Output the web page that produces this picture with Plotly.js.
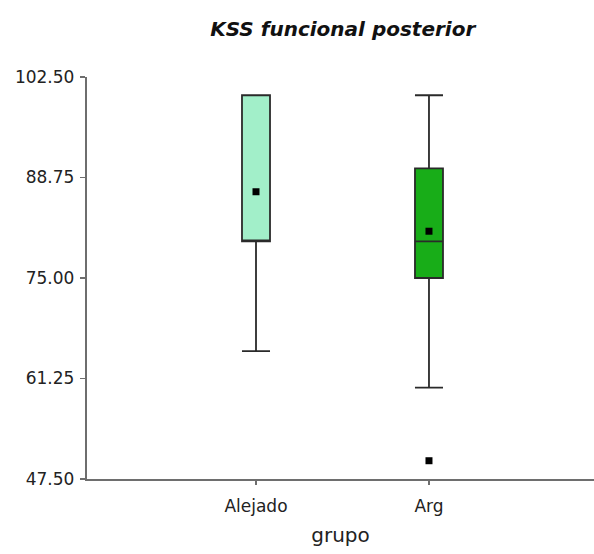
<!DOCTYPE html>
<html><head><meta charset="utf-8">
<script src="https://cdn.plot.ly/plotly-3.0.1.min.js"></script>
<style>html,body{margin:0;padding:0;background:#fff}#chart{width:594px;height:554px}</style>
</head><body><div id="chart"></div>
<script>
const groups = ["Alejado", "Arg"];
const lowerWhisker = [65, 60];
const q1Values = [80, 75];
const medians = [80, 80];
const q3Values = [100, 90];
const upperWhisker = [100, 100];
const means = [86.8, 81.4];
const fills = ["#a2efc9", "#18ad18"];
const outlierGroups = ["Arg"];
const outlierValues = [50];
const yTicks = [47.5, 61.25, 75, 88.75, 102.5];
const yTickLabels = ["47.50", "61.25", "75.00", "88.75", "102.50"];

const traces = groups.map((g, i) => ({
  type: "box",
  x: [g],
  q1: [q1Values[i]],
  median: [medians[i]],
  q3: [q3Values[i]],
  lowerfence: [lowerWhisker[i]],
  upperfence: [upperWhisker[i]],
  fillcolor: fills[i],
  line: {color: "#2a2a2a", width: 1.8},
  whiskerwidth: 1,
  width: 0.162,
  boxpoints: false,
  showlegend: false,
  hoverinfo: "skip"
}));
traces.push({
  type: "scatter", mode: "markers", x: groups, y: means,
  marker: {symbol: "square", size: 7, color: "#000"}, showlegend: false
});
traces.push({
  type: "scatter", mode: "markers", x: outlierGroups, y: outlierValues,
  marker: {symbol: "square", size: 7, color: "#000"}, showlegend: false
});

const layout = {
  width: 594, height: 554,
  margin: {l: 87, r: 0, t: 77, b: 75},
  paper_bgcolor: "#fff", plot_bgcolor: "#fff",
  font: {family: "DejaVu Sans, sans-serif", size: 17, color: "#222"},
  title: {text: "<b><i>KSS funcional posterior</i></b>", x: 0.577, xanchor: "center", y: 0.948, yanchor: "middle",
          font: {family: "DejaVu Sans, sans-serif", size: 20, color: "#111"}},
  xaxis: {
    type: "category", categoryorder: "array", categoryarray: groups,
    range: [-0.977, 1.954], showgrid: false, zeroline: false,
    showline: true, linecolor: "#6e6e6e", linewidth: 2.2,
    ticks: "outside", ticklen: 4, tickcolor: "#6e6e6e", tickwidth: 1.5,
    ticklabelstandoff: 6,
    title: {text: "grupo", standoff: 14, font: {size: 20}},
    tickfont: {size: 17}
  },
  yaxis: {
    range: [47.5, 102.5], tickvals: yTicks, ticktext: yTickLabels,
    showgrid: false, zeroline: false,
    showline: true, linecolor: "#6e6e6e", linewidth: 2.2,
    ticks: "outside", ticklen: 5, tickcolor: "#6e6e6e", tickwidth: 1.5,
    ticklabelstandoff: 2,
    tickfont: {size: 17}
  }
};
Plotly.newPlot("chart", traces, layout, {displayModeBar: false, staticPlot: true});
</script></body></html>
